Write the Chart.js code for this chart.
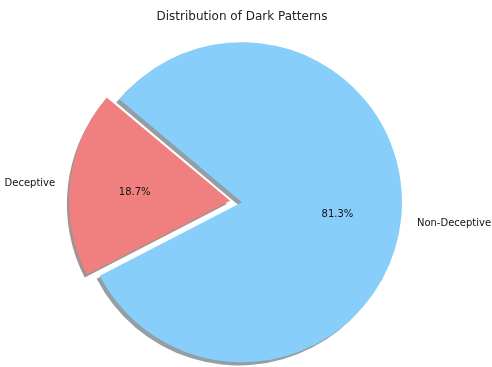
<!DOCTYPE html>
<html>
<head>
<meta charset="utf-8">
<script src="https://cdn.jsdelivr.net/npm/chart.js"></script>
<style>
  html, body { margin: 0; padding: 0; background: #fff; }
  #wrap { width: 492px; height: 367px; }
</style>
</head>
<body>
<div id="wrap"><canvas id="pieChart" width="492" height="367"></canvas></div>
<script>
const labels = ["Deceptive", "Non-Deceptive"];
const shares = [18.7, 81.3];
const colors = ["#F08080", "#87CEFA"];
const explode = [0.075, 0];

const R = 160;          // pie radius in px
const START = 140;      // matplotlib startangle (ccw from east)
// chart.js rotation: clockwise from 12 o'clock, slice order clockwise
const rotation = 90 - START - shares[0] / 100 * 360;

function sliceShift(arc) {
  const off = (arc.options.offset || 0) / 4;
  const mid = (arc.startAngle + arc.endAngle) / 2;
  return { dx: Math.cos(mid) * off, dy: Math.sin(mid) * off, mid: mid };
}

const shadowPlugin = {
  id: "shadow",
  beforeDatasetsDraw(chart) {
    const ctx = chart.ctx;
    const meta = chart.getDatasetMeta(0);
    meta.data.forEach((arc, i) => {
      const s = sliceShift(arc);
      const c = colors[i];
      const r = parseInt(c.slice(1, 3), 16), g = parseInt(c.slice(3, 5), 16), b = parseInt(c.slice(5, 7), 16);
      ctx.save();
      ctx.fillStyle = "rgba(" + Math.round(r * 0.3) + "," + Math.round(g * 0.3) + "," + Math.round(b * 0.3) + ",0.5)";
      const cx = arc.x + s.dx - 0.02 * R, cy = arc.y + s.dy + 0.02 * R;
      ctx.beginPath();
      ctx.moveTo(cx, cy);
      ctx.arc(cx, cy, arc.outerRadius, arc.startAngle, arc.endAngle);
      ctx.closePath();
      ctx.fill();
      ctx.restore();
    });
  }
};

const textPlugin = {
  id: "pieText",
  afterDatasetsDraw(chart) {
    const ctx = chart.ctx;
    const meta = chart.getDatasetMeta(0);
    ctx.save();
    ctx.font = "10px 'DejaVu Sans'";
    ctx.fillStyle = "#111";
    ctx.textBaseline = "middle";
    meta.data.forEach((arc, i) => {
      const s = sliceShift(arc);
      const cx = arc.x + s.dx, cy = arc.y + s.dy + 2;
      const cos = Math.cos(s.mid), sin = Math.sin(s.mid);
      ctx.textAlign = cos < 0 ? "right" : "left";
      ctx.fillText(labels[i], cx + cos * R * 1.1, cy + sin * R * 1.1);
      ctx.textAlign = "center";
      ctx.fillText(shares[i].toFixed(1) + "%", cx + cos * R * 0.6, cy + sin * R * 0.6);
    });
    ctx.restore();
  }
};

new Chart(document.getElementById("pieChart"), {
  type: "pie",
  data: {
    labels: labels,
    datasets: [{
      data: shares,
      backgroundColor: colors,
      borderWidth: 0,
      offset: explode.map(e => e * R * 4)
    }]
  },
  options: {
    responsive: false,
    animation: false,
    events: [],
    rotation: rotation,
    radius: R,
    layout: { padding: { left: 0, right: 8, top: 0, bottom: 0 } },
    plugins: {
      legend: { display: false },
      tooltip: { enabled: false },
      title: {
        display: true,
        text: "Distribution of Dark Patterns",
        color: "#222",
        font: { family: "DejaVu Sans", size: 12, weight: "normal" },
        padding: { top: 10, bottom: 13 }
      }
    }
  },
  plugins: [shadowPlugin, textPlugin]
});
</script>
</body>
</html>
